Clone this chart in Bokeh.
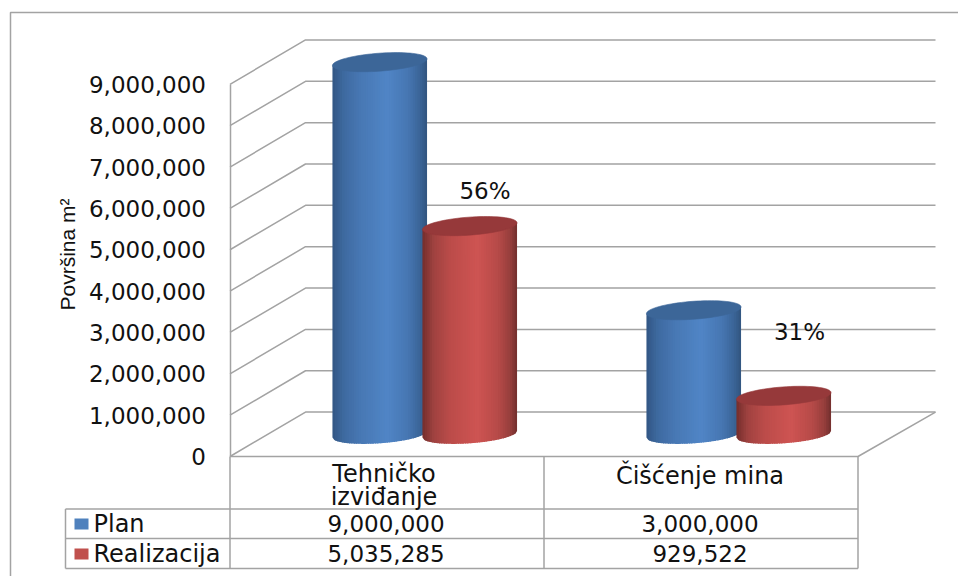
from bokeh.plotting import figure
from bokeh.models import Range1d, LinearAxis, FixedTicker, NumeralTickFormatter, Label
from bokeh.embed import file_html
from bokeh.resources import INLINE
import numpy as np

# ---- data ----
categories = ["Tehničko\nizviđanje", "Čišćenje mina"]
series_names = ["Plan", "Realizacija"]
plan = [9000000, 3000000]
realizacija = [5035285, 929522]
percent_labels = ["56%", "31%"]
y_ticks = [0, 1000000, 2000000, 3000000, 4000000, 5000000, 6000000, 7000000, 8000000, 9000000]
y_title = "Površina m²"

# ---- layout (page pixels) ----
W, H = 958, 576
X0, SLOT = 229.5, 314.0
Y0, PER_M = 456.0, 41.35
DX, DY = 75.5, 44.4
GRID = "#A3A3A3"
FONT = "DejaVu Sans"
FS = "23px"
FS_TABLE = "24px"

K = PER_M / 1e6
def xd(px): return (px - X0) / SLOT          # page px -> slot units
def yd(py): return (Y0 - py) / K             # page px -> value units
def proj_x(c, d): return c + d * (DX + c) / SLOT
def proj_y(v, d): return v + d * DY / K

p = figure(width=W, height=H, output_backend="svg", toolbar_location=None,
           x_range=Range1d(xd(0), xd(W)), y_range=Range1d(yd(H), yd(0)),
           x_axis_type=None, y_axis_type=None, min_border_left=0, min_border_right=0,
           min_border_top=0, min_border_bottom=0, outline_line_color=None)
p.grid.visible = False

yaxis = LinearAxis(ticker=FixedTicker(ticks=y_ticks), bounds=(0, y_ticks[-1]),
                   fixed_location=xd(X0),
                   formatter=NumeralTickFormatter(format="0,0"),
                   axis_line_color=GRID, axis_line_width=1.5,
                   major_tick_line_color=None, minor_tick_line_color=None,
                   major_tick_in=0, major_tick_out=0,
                   major_label_standoff=24, major_label_text_font=FONT,
                   major_label_text_font_size=FS, major_label_text_color="#111111")
p.add_layout(yaxis, "left")

# walls
xs, ys = [], []
for v in y_ticks:
    xs.append([proj_x(0, 0), proj_x(0, 1), proj_x(2, 1)])
    ys.append([proj_y(v, 0), proj_y(v, 1), proj_y(v, 1)])
xs.append([proj_x(0, 0), proj_x(2, 0), proj_x(2, 1)])
ys.append([0, 0, proj_y(0, 1)])
p.multi_line(xs, ys, line_color=GRID, line_width=1.5)

# cylinders, built from narrow shaded strips
def shade(stops, t):
    pos = [0, .12, .3, .58, .8, .93, 1]
    return "#%02x%02x%02x" % tuple(int(round(np.interp(t, pos, [s[i] for s in stops]))) for i in range(3))

BLUE = [(50, 86, 132), (62, 106, 160), (72, 120, 180), (80, 133, 198), (70, 118, 178), (58, 100, 150), (50, 84, 126)]
RED = [(116, 46, 44), (160, 66, 64), (188, 76, 74), (206, 84, 82), (182, 74, 72), (150, 62, 60), (112, 46, 44)]
LID = {"b": "#3c6698", "r": "#96393a"}
A, B, S = 47.3, 9.0, 0.07
N = 40

def cylinder(cat, off, v, stops, lid):
    cx = X0 + SLOT * (cat + .5) + off + DX / 2
    base = Y0 - DY / 2
    edge = np.linspace(-A, A, N + 1)
    bottom = lambda e: base - S * e + B * np.sqrt(np.clip(1 - (e / A) ** 2, 0, 1))
    top = lambda e: base - K * v - S * e
    for i in range(N):
        right = min(edge[i + 1] + 1.0, A)      # overlap the next strip so no seams show
        e = np.linspace(edge[i], right, 3)
        sx = list(xd(cx + e)) + list(xd(cx + e[::-1]))
        sy = list(yd(bottom(e))) + list(yd(top(e[::-1])))
        p.patch(sx, sy, fill_color=shade(stops, (i + .5) / N), line_color=None)
    t = np.linspace(0, 2 * np.pi, 80)
    ex = A * np.cos(t)
    ey = base - K * v - S * ex + B * np.sin(t)
    p.patch(xd(cx + ex), yd(ey), fill_color=lid, line_color=lid, line_width=0.6)

for cat in range(len(categories)):
    cylinder(cat, -45, plan[cat], BLUE, LID["b"])
    cylinder(cat, 45, realizacija[cat], RED, LID["r"])

def text(px, py, s, align="center", size=FS, font=FONT, angle=0):
    p.add_layout(Label(x=px, y=py, x_units="canvas", y_units="canvas", text=s, text_align=align,
                       text_baseline="middle", text_font=font, text_font_size=size,
                       text_color="#111111", angle=angle))

def rule(pts):
    p.line([xd(a) for a, _ in pts], [yd(b) for _, b in pts], line_color=GRID, line_width=1.5)

# outer chart border (top and left edges; it runs off the page on the other sides)
rule([(W, 12), (10, 12), (10, H)])

# data table
T0, T1, T2, T3 = 456.0, 508.5, 538.0, 568.0
TL = 65.0
tx = [X0, X0 + SLOT, X0 + 2 * SLOT]
for t in (T1, T2, T3):
    rule([(TL, t), (tx[2], t)])
for x in tx:
    rule([(x, T0), (x, T3)])
rule([(TL, T1), (TL, T3)])

for i, cat in enumerate(categories):
    cx = X0 + SLOT * (i + .5) - 1
    lines = cat.split("\n")
    if len(lines) == 2:
        text(cx - 2, 473, lines[0], size=FS_TABLE); text(cx - 2, 496, lines[1], size=FS_TABLE)
    else:
        text(cx, 475, lines[0], size=FS_TABLE)
    text(cx, 523, f"{plan[i]:,}")
    text(cx, 553, f"{realizacija[i]:,}")

p.quad(left=[xd(74)], right=[xd(88)], top=[yd(518)], bottom=[yd(529)], fill_color="#4F81BD", line_color=None)
p.quad(left=[xd(74)], right=[xd(88)], top=[yd(548)], bottom=[yd(559)], fill_color="#C0504D", line_color=None)
text(93, 523, series_names[0], "left", size=FS_TABLE)
text(93, 553, series_names[1], "left", size=FS_TABLE)

# percentages and axis title
text(484.5, 190, percent_labels[0])
text(799, 331, percent_labels[1])
text(67, 254, y_title, size="21px", font="Liberation Sans", angle=np.pi / 2)

open("out.html", "w").write(file_html(p, INLINE))
